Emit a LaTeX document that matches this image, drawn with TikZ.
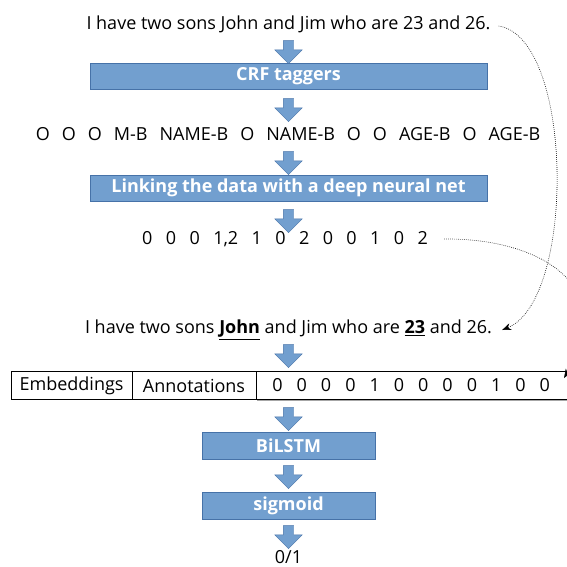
\documentclass[tikz,border=0pt]{standalone}
\usepackage{fontspec}
\setmainfont{Open Sans}
\usetikzlibrary{arrows.meta,shapes.arrows,shadows}
\definecolor{layerblue}{RGB}{114,159,207}
\definecolor{layeredge}{RGB}{70,114,168}
\newcommand{\tgap}{\hspace{12pt}}
\newcommand{\ngap}{\hspace{13.4pt}}
\newcommand{\vgap}{\hspace{14pt}}

\begin{document}
\begin{tikzpicture}[
      x=1pt, y=-1pt,
      font=\fontsize{18}{21}\selectfont,
      >={Stealth[length=9pt,width=7pt]},
      txt/.style={inner sep=0pt},
      layer/.style={draw=layeredge,fill=layerblue,text=white,font=\fontsize{18}{21}\selectfont\bfseries,minimum height=26pt,inner sep=0pt},
      down/.style={single arrow,draw=layeredge,fill=layerblue,rotate=-90,minimum height=23pt,
                   single arrow head extend=8.5pt,single arrow head indent=0pt,inner sep=5pt},
      cell/.style={draw,fill=white,line width=0.8pt,minimum height=28pt,inner sep=0pt},
      link/.style={->,line width=0.6pt,dash pattern=on 0.7pt off 1.3pt}
    ]
    \useasboundingbox (0,0) rectangle (566,567);

    % Tagging pipeline
    \node (s1)   [txt] at (288.5,24) {I have two sons John and Jim who are 23 and 26.};
    \node (a1)   [down] at (288.5,49.5) {};
    \node (crf)  [layer,minimum width=397pt] at (288.5,76) {CRF taggers};
    \node (a2)   [down] at (288.5,107.5) {};
    \node (tags) [txt] at (288,134)
      {O\tgap O\tgap O\tgap M-B\tgap NAME-B\tgap O\tgap NAME-B\tgap O\tgap O\tgap AGE-B\tgap O\tgap AGE-B};
    \node (a3)   [down] at (288.5,160.5) {};
    \node (dnn)  [layer,minimum width=397pt] at (288.5,188) {Linking the data with a deep neural net};
    \node (a4)   [down] at (288.5,218.5) {};
    \node (nums) [txt] at (285,239)
      {0\ngap 0\ngap 0\ngap 1,2\ngap 1\ngap 0\ngap 2\ngap 0\ngap 0\ngap 1\ngap 0\ngap 2};

    % Classifier
    \node (s2)   [txt] at (288.5,330)
      {I have two sons \underline{\textbf{John}} and Jim who are \underline{\textbf{23}} and 26.};
    \node (a5)   [down] at (288.5,353.5) {};
    \node (emb)  [cell,minimum width=121pt] at (71.5,385.5) {Embeddings};
    \node (ann)  [cell,minimum width=124pt] at (194,385.5) {Annotations};
    \node (vec)  [cell,minimum width=330pt,anchor=west,text width=330pt,
                  drop shadow={shadow xshift=0.5pt,shadow yshift=-1.6pt,opacity=0.7}] at (256,385.5)
      {\hspace{16pt}0\vgap 0\vgap 0\vgap 0\vgap 1\vgap 0\vgap 0\vgap 0\vgap 0\vgap 1\vgap 0\vgap 0};
    \node (a6)   [down] at (288.5,416.5) {};
    \node (lstm) [layer,minimum width=173pt,minimum height=27pt] at (288.5,445.5) {BiLSTM};
    \node (a7)   [down] at (288.5,474.5) {};
    \node (sig)  [layer,minimum width=173pt,minimum height=27pt] at (288.5,505.5) {sigmoid};
    \node (a8)   [down] at (288.5,534.5) {};
    \node (out)  [txt] at (288.5,557.5) {0/1};

    % Dotted links
    \coordinate (tip) at (564,378);
    \draw[link] ([xshift=8pt,yshift=-2pt]s1.east) .. controls (574,38) and (576,300) .. ([xshift=10pt]s2.east);
    \draw[link] ([xshift=16pt]nums.east) .. controls (545,238) and (620,290) .. (tip);
  \end{tikzpicture}
\end{document}
